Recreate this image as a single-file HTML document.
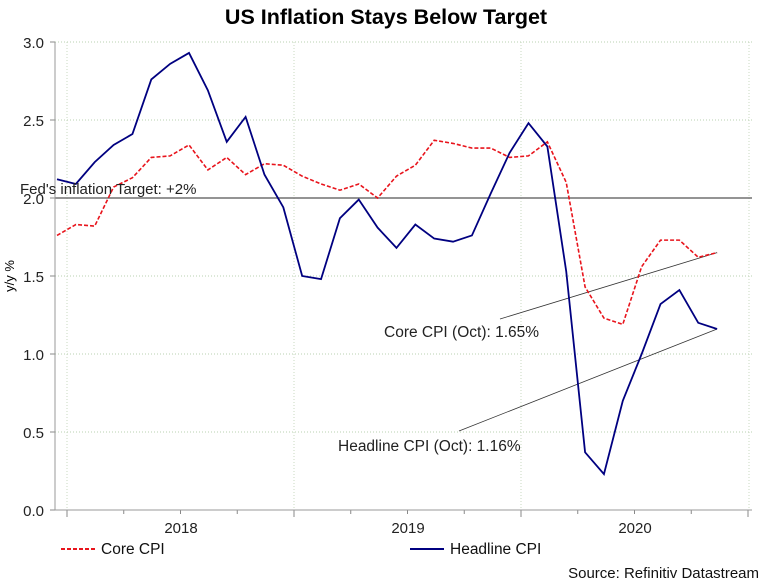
<!DOCTYPE html>
<html><head><meta charset="utf-8"><style>
body{margin:0;background:#fff;width:771px;height:582px;overflow:hidden}
svg text{font-family:"Liberation Sans",Arial,sans-serif}
</style></head><body>
<svg id="chart" width="771" height="582" xmlns="http://www.w3.org/2000/svg">
<text x="386" y="24" text-anchor="middle" font-size="21.5" font-weight="bold" fill="#000">US Inflation Stays Below Target</text>
<g id="grid"></g>
<g id="axes"></g>
<g id="series"></g>
<text transform="translate(14,276) rotate(-90)" text-anchor="middle" font-size="13" fill="#000">y/y %</text>
<text x="20" y="194" font-size="15" fill="#222">Fed's inflation Target: +2%</text>
<text x="384" y="337" font-size="15.5" fill="#222">Core CPI (Oct): 1.65%</text>
<text x="338" y="451" font-size="15.5" fill="#222">Headline CPI (Oct): 1.16%</text>
<g>
<line x1="61" y1="549" x2="95" y2="549" stroke="#e8141c" stroke-width="2" stroke-dasharray="4,2"/>
<text x="101" y="554" font-size="15.5" fill="#111">Core CPI</text>
<line x1="410" y1="549" x2="444" y2="549" stroke="#000080" stroke-width="2"/>
<text x="450" y="554" font-size="15.5" fill="#111">Headline CPI</text>
</g>
<text x="759" y="578" text-anchor="end" font-size="15" fill="#111">Source: Refinitiv Datastream</text>
</svg>
<script>
const months = ["Nov17","Dec17","Jan18","Feb18","Mar18","Apr18","May18","Jun18","Jul18","Aug18","Sep18","Oct18","Nov18","Dec18","Jan19","Feb19","Mar19","Apr19","May19","Jun19","Jul19","Aug19","Sep19","Oct19","Nov19","Dec19","Jan20","Feb20","Mar20","Apr20","May20","Jun20","Jul20","Aug20","Sep20","Oct20"];
const headline = [2.12,2.09,2.23,2.34,2.41,2.76,2.86,2.93,2.69,2.36,2.52,2.15,1.94,1.50,1.48,1.87,1.99,1.81,1.68,1.83,1.74,1.72,1.76,2.03,2.29,2.48,2.33,1.53,0.37,0.23,0.70,1.00,1.32,1.41,1.20,1.16];
const core = [1.76,1.83,1.82,2.07,2.13,2.26,2.27,2.34,2.18,2.26,2.15,2.22,2.21,2.14,2.09,2.05,2.09,2.00,2.14,2.21,2.37,2.35,2.32,2.32,2.26,2.27,2.36,2.10,1.43,1.23,1.19,1.56,1.73,1.73,1.62,1.65];
const yTicks = [0,0.5,1.0,1.5,2.0,2.5,3.0];
const yearLabels = ["2018","2019","2020"];
const target = 2.0;
const NS="http://www.w3.org/2000/svg";
const X0=57, DX=18.86, Y0=510, YS=156;
const x=i=>X0+i*DX, y=v=>Y0-v*YS;
function mk(tag,attrs,parent){const e=document.createElementNS(NS,tag);for(const k in attrs)e.setAttribute(k,attrs[k]);parent.appendChild(e);return e;}
const grid=document.getElementById('grid'), axes=document.getElementById('axes'), ser=document.getElementById('series');
yTicks.forEach(t=>{
  if(t>0){const g=mk('line',{x1:55,x2:752,y1:y(t),y2:y(t),stroke:'#b8d0b0','stroke-dasharray':'1,2'},grid);
  
  }
  const tx=mk('text',{x:44,y:y(t)+6,'text-anchor':'end','font-size':15,fill:'#222'},axes);tx.textContent=t.toFixed(1);
  
  
  const tk=mk('line',{x1:50,x2:55,y1:y(t),y2:y(t),stroke:'#888'},axes);
  
  
});
[67,294,521,749].forEach(gx=>{const g=mk('line',{x1:gx,x2:gx,y1:42,y2:510,stroke:'#c8d8c0','stroke-dasharray':'1,2'},grid);
  
  });
for(let k=0;k<=12;k++){const tx=67+k*56.75;const t=mk('line',{x1:tx,x2:tx,y1:510,y2:k%4==0?517:514,stroke:'#888'},axes);
  
  }
yearLabels.forEach((l,i)=>{const t=mk('text',{x:181+i*227,y:533,'text-anchor':'middle','font-size':15,fill:'#222'},axes);t.textContent=l;
  
  });
const ya=mk('line',{x1:55,x2:55,y1:42,y2:510,stroke:'#999'},axes);


const xa=mk('line',{x1:55,x2:752,y1:510,y2:510,stroke:'#999'},axes);


const tl=mk('line',{x1:55,x2:752,y1:y(target),y2:y(target),stroke:'#707070','stroke-width':1.5},grid);


const n=core.length-1;
const a1=mk('line',{x1:500,y1:319,x2:x(n),y2:y(core[n]),stroke:'#333','stroke-width':0.8},ser);


const a2=mk('line',{x1:459,y1:431,x2:x(headline.length-1),y2:y(headline[headline.length-1]),stroke:'#333','stroke-width':0.8},ser);


const cp=mk('polyline',{points:core.map((v,i)=>x(i)+','+y(v)).join(' '),fill:'none',stroke:'#e8141c','stroke-width':1.6,'stroke-dasharray':'4,2'},ser);


const hp=mk('polyline',{points:headline.map((v,i)=>x(i)+','+y(v)).join(' '),fill:'none',stroke:'#000080','stroke-width':1.8},ser);


</script>
</body></html>
